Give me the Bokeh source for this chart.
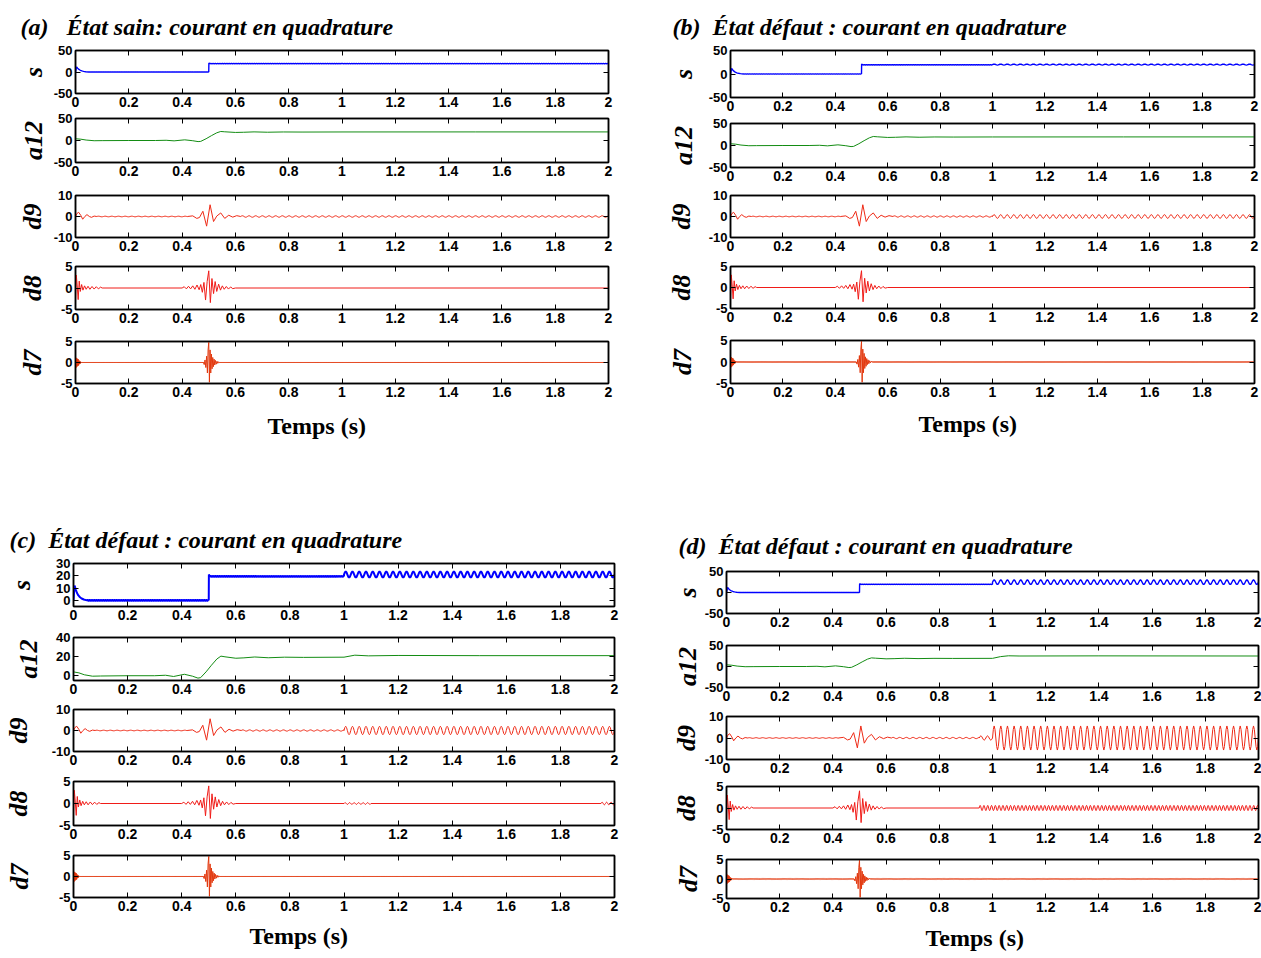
import numpy as np
from bokeh.plotting import figure
from bokeh.layouts import column, row
from bokeh.models import Range1d, FixedTicker, LinearAxis, Title, CustomJSTickFormatter
from bokeh.embed import file_html
from bokeh.resources import INLINE

# ---------------------------------------------------------------- data
X_TICKS = [0, 0.2, 0.4, 0.6, 0.8, 1, 1.2, 1.4, 1.6, 1.8, 2]
SIGNAL_NAMES = ["s", "a12", "d9", "d8", "d7"]
PANEL_KEYS = ["a", "b", "c", "d"]
NB = "\u00a0"
PANEL_TITLES = {
    "a": "(a)" + NB * 3 + "État sain: courant en quadrature",
    "b": "(b)" + NB * 2 + "État défaut : courant en quadrature",
    "c": "(c)" + NB * 2 + "État défaut : courant en quadrature",
    "d": "(d)" + NB * 2 + "État défaut : courant en quadrature",
}
X_LABEL = "Temps (s)"

Y_LIMITS = {"s": (-50, 50), "a12": (-50, 50), "d9": (-10, 10), "d8": (-5, 5), "d7": (-5, 5)}
Y_TICKS = {"s": [-50, 0, 50], "a12": [-50, 0, 50], "d9": [-10, 0, 10], "d8": [-5, 0, 5], "d7": [-5, 0, 5]}
Y_LIMITS_C = {"s": (-5, 30), "a12": (-5, 40)}
Y_TICKS_C = {"s": [0, 10, 20, 30], "a12": [0, 20, 40]}

# transient vertices (time s, value)
S_START_T = [0, 0.004, 0.008, 0.013, 0.018, 0.024, 0.030, 0.038, 0.050]
S_START_V = [0, 12, 9, 6, 4, 2.5, 1.5, 0.7, 0]
S_STEP_T = [0.5, 0.5005, 0.504]
S_STEP_V = [0, 21, 19.5]

A12_T = [0, 0.02, 0.04, 0.07, 0.10, 0.20, 0.30, 0.34, 0.37, 0.41, 0.44, 0.46, 0.47,
         0.49, 0.51, 0.53, 0.545, 0.56, 0.60, 0.63, 0.67, 0.72, 0.78, 0.85, 1.0]
A12_V = [4, 3, 1, -0.5, -0.3, 0, 0, 0.5, -0.8, 1.5, -0.5, -2.5, -2,
         4, 11, 17.5, 20.5, 19.8, 18.3, 18.7, 19.6, 18.8, 19.4, 19.2, 19.4]
A12_TAIL_AB_T = [1.5, 2.0]
A12_TAIL_AB_V = [19.5, 19.5]
A12_TAIL_C_T = [1.04, 1.09, 1.2, 1.5, 2.0]
A12_TAIL_C_V = [21.5, 20.8, 21.2, 21.0, 21.0]
A12_TAIL_D_T = [1.03, 1.06, 1.1, 1.4, 2.0]
A12_TAIL_D_V = [23.5, 25.5, 25.0, 25.3, 25.0]

D9_START_T = [0, 0.006, 0.012, 0.020, 0.027, 0.035, 0.043, 0.052, 0.060, 0.070, 0.080]
D9_START_V = [0, 1.5, 2.0, 0.5, -1.3, 0, 0.9, 0, -0.4, 0.2, 0]
D9_BURST_T = [0.42, 0.44, 0.455, 0.465, 0.478, 0.492, 0.505, 0.518, 0.530,
              0.545, 0.560, 0.575, 0.590, 0.605, 0.620]
D9_BURST_V = [0, 0.3, -0.9, -0.5, 2.5, -4.6, 5.6, -2.4, 0.2,
              1.7, -0.9, 0.6, -0.3, 0.4, 0]

D8_START_T = [0, 0.003, 0.007, 0.010, 0.014, 0.018, 0.023, 0.028, 0.034, 0.040,
              0.047, 0.054, 0.062, 0.070, 0.078, 0.086, 0.094, 0.100, 0.400]
D8_START_V = [-2.5, 3, 0, -2.7, 1.6, -0.8, 0.8, -0.5, 0.5, -0.3,
              0.4, -0.3, 0.35, -0.25, 0.3, -0.2, 0.2, 0, 0]
D8_BURST_T = [0.408, 0.416, 0.424, 0.432, 0.440, 0.448, 0.456, 0.464, 0.470, 0.476,
              0.482, 0.488, 0.494, 0.500, 0.506, 0.512, 0.518, 0.524, 0.530, 0.537,
              0.544, 0.551, 0.558, 0.566, 0.574, 0.582, 0.590, 0.600]
D8_BURST_V = [0.3, -0.2, 0.4, -0.2, 0.5, -0.3, 0.7, -0.4, 0.8, -1.0,
              1.3, -2.8, 1.5, 4.0, -3.4, 2.2, -1.3, 1.5, -0.8, 0.9,
              -0.5, 0.5, -0.3, 0.35, -0.25, 0.25, -0.15, 0]

D7_START_T = [0, 0.001, 0.0025, 0.004, 0.0055, 0.007, 0.0085, 0.010, 0.0115, 0.013,
              0.0145, 0.016, 0.0175, 0.019, 0.021]
D7_START_V = [0, 1, -1.2, 1.1, -1, 0.9, -0.8, 0.8, -0.7, 0.5,
              -0.4, 0.3, -0.3, 0.2, 0]
D7_BURST_T = [0.480, 0.483, 0.486, 0.489, 0.492, 0.495, 0.4975, 0.500, 0.5025, 0.505,
              0.5075, 0.510, 0.5125, 0.515, 0.5175, 0.520, 0.5225, 0.525, 0.528, 0.531,
              0.534, 0.537, 0.540]
D7_BURST_V = [0, -0.5, 0.6, -1.2, 1.5, -2.5, 3.0, 4.8, -4.7, 3.0,
              -2.5, 2.0, -1.5, 1.2, -1.0, 0.8, -0.6, 0.5, -0.4, 0.3,
              -0.2, 0.15, 0]

# steady oscillations: (start s, end s, cycles per s, amplitude, centre)
S_NOISE_1 = (0.05, 0.5, 150, 0.35, 0)
S_NOISE_2 = (0.504, 1.0, 150, 0.35, 19.5)
S_TAIL = {"a": (1.0, 2.0, 150, 0.35, 19.5), "b": (1.0, 2.0, 40, 1.0, 20.0),
          "c": (1.0, 2.0, 40, 2.5, 21.0), "d": (1.0, 2.0, 40, 5.5, 24.5)}
D9_QUIET = (0.08, 0.42, 40, 0.15, 0)
D9_TAIL = {"a": [(0.62, 2.0, 40, 0.35, 0)],
           "b": [(0.62, 1.0, 40, 0.3, 0), (1.0, 2.0, 40, 0.9, 0)],
           "c": [(0.62, 1.0, 40, 0.3, 0), (1.0, 2.0, 40, 2.0, 0)],
           "d": [(0.62, 0.95, 40, 0.3, 0), (0.95, 1.0, 40, 1.0, 0), (1.0, 2.0, 40, 5.6, 0)]}
D8_TAIL = {"a": [(0.6, 2.0, 0, 0, 0)],
           "b": [(0.6, 2.0, 0, 0, 0)],
           "c": [(0.6, 1.0, 0, 0, 0), (1.0, 1.1, 60, 0.2, 0), (1.1, 1.95, 0, 0, 0), (1.95, 2.0, 60, 0.3, 0)],
           "d": [(0.6, 0.95, 0, 0, 0), (0.95, 2.0, 70, 0.6, 0)]}
D7_NOISE_1 = (0.021, 0.48, 250, 0.12, 0)
D7_NOISE_2 = (0.54, 2.0, 250, 0.12, 0)

LINE_COLORS = {"s": "#0000ff", "a12": "#138c13", "d9": "#ee2a16", "d8": "#f01c18", "d7": "#e2380e"}

# ---------------------------------------------------------------- layout (page pixels)
FRAME_X = {"a": (75, 608), "b": (730, 1254), "c": (72, 614), "d": (726, 1258)}
FRAME_Y = {
    "a": [(50, 93), (118, 162), (195, 237), (266, 309), (341, 383)],
    "b": [(50, 97), (123, 167), (195, 237), (266, 308), (340, 383)],
    "c": [(563, 606), (637, 680), (709, 751), (781, 825), (855, 897)],
    "d": [(571, 613), (645, 687), (716, 759), (786, 829), (859, 902)],
}
BANDS = {"a": [0, 110, 183, 256, 330, 450], "b": [0, 113, 186, 256, 330, 450],
         "c": [450, 626, 698, 770, 844, 958], "d": [450, 634, 705, 776, 848, 958]}
COLS = {"a": (0, 640), "c": (0, 640), "b": (640, 1261), "d": (640, 1261)}
TITLE_X = {"a": 20, "b": 672, "c": 8, "d": 678}
TITLE_STANDOFF = {"a": 21, "b": 21, "c": 21, "d": 25}
XLAB_CX = {"a": 317, "b": 968, "c": 298, "d": 975}
XLAB_STANDOFF = {"a": 23, "b": 18, "c": 15, "d": 16}
YLAB_X = {"a": [35, 35, 34, 34, 34], "b": [685, 685, 683, 683, 684],
          "c": [22, 29, 19, 19, 20], "d": [692, 692, 688, 688, 690]}

TICK_FMT = CustomJSTickFormatter(code="return (Math.round(tick*10)/10).toString();")


def ripple(seg):
    t0, t1, f, amp, c = seg
    if f == 0:
        return [t0, t1], [c, c]
    n = max(2, int(round((t1 - t0) * f * 8)) + 1)
    tt = np.linspace(t0, t1, n)
    vv = c + amp * np.sin(2 * np.pi * f * (tt - t0))
    return list(tt), list(vv)


def assemble(pieces):
    T, V = [], []
    for p in pieces:
        if isinstance(p, tuple) and len(p) == 5:
            tt, vv = ripple(p)
        else:
            tt, vv = p
        T += list(tt)
        V += list(vv)
    return np.array(T), np.array(V)


def signal(name, k):
    if name == "s":
        return assemble([(S_START_T, S_START_V), S_NOISE_1, (S_STEP_T, S_STEP_V), S_NOISE_2, S_TAIL[k]])
    if name == "a12":
        tail = {"a": (A12_TAIL_AB_T, A12_TAIL_AB_V), "b": (A12_TAIL_AB_T, A12_TAIL_AB_V),
                "c": (A12_TAIL_C_T, A12_TAIL_C_V), "d": (A12_TAIL_D_T, A12_TAIL_D_V)}[k]
        return assemble([(A12_T, A12_V), tail])
    if name == "d9":
        return assemble([(D9_START_T, D9_START_V), D9_QUIET, (D9_BURST_T, D9_BURST_V)] + D9_TAIL[k])
    if name == "d8":
        return assemble([(D8_START_T, D8_START_V), (D8_BURST_T, D8_BURST_V)] + D8_TAIL[k])
    return assemble([(D7_START_T, D7_START_V), D7_NOISE_1, (D7_BURST_T, D7_BURST_V), D7_NOISE_2])


def label_width(ticks, size):
    best = 0
    for t in ticks:
        s = str(t)
        w = sum(0.333 if ch == "-" else 0.556 for ch in s) * size
        best = max(best, w)
    return best


def style_axis(ax, ticks, labels, standoff=3):
    ax.ticker = FixedTicker(ticks=ticks)
    ax.formatter = TICK_FMT
    ax.major_tick_in = 5
    ax.major_tick_out = 0
    ax.minor_tick_line_color = None
    ax.axis_line_color = "black"
    ax.axis_line_width = 1.5
    ax.major_tick_line_color = "black"
    ax.major_tick_line_width = 1
    if labels:
        ax.major_label_text_font = "Liberation Sans"
        ax.major_label_text_font_style = "bold"
        ax.major_label_text_color = "black"
        ax.major_label_standoff = standoff
    else:
        ax.major_label_text_font_size = "0px"
        ax.major_label_text_color = None
        ax.major_label_standoff = 0


def make_fig(k, i):
    name = SIGNAL_NAMES[i]
    L, R = FRAME_X[k]
    T, B = FRAME_Y[k][i]
    cx0, cx1 = COLS[k]
    y0, y1 = BANDS[k][i], BANDS[k][i + 1]
    lo, hi = (Y_LIMITS_C if (k == "c" and name in Y_LIMITS_C) else Y_LIMITS)[name]
    yt = (Y_TICKS_C if (k == "c" and name in Y_TICKS_C) else Y_TICKS)[name]
    p = figure(width=cx1 - cx0, height=y1 - y0, x_range=Range1d(0, 2), y_range=Range1d(lo, hi),
               output_backend="svg", toolbar_location=None,
               min_border_left=L - cx0, min_border_right=cx1 - R,
               min_border_top=T - y0, min_border_bottom=y1 - B)
    p.background_fill_color = "white"
    p.border_fill_color = "white"
    p.outline_line_color = "black"
    p.outline_line_width = 1.5
    p.xgrid.grid_line_color = None
    p.ygrid.grid_line_color = None

    style_axis(p.xaxis[0], X_TICKS, True, 3)
    p.xaxis[0].major_label_text_font_size = "14px"
    style_axis(p.yaxis[0], yt, True, 3)
    p.yaxis[0].major_label_text_font_size = "13px"
    top = LinearAxis()
    style_axis(top, X_TICKS, False)
    p.add_layout(top, "above")
    right = LinearAxis()
    style_axis(right, yt, False)
    p.add_layout(right, "right")

    yl = p.yaxis[0]
    yl.axis_label = name
    yl.axis_label_text_font = "Liberation Serif"
    yl.axis_label_text_font_style = "bold italic"
    yl.axis_label_text_font_size = "26px"
    yl.axis_label_text_color = "black"
    dist = L - YLAB_X[k][i]
    yl.axis_label_standoff = int(max(0, dist - 3 - label_width(yt, 13) - 15))

    t, v = signal(name, k)
    lw = 1.0
    if name == "s":
        lw = 2.0 if k == "c" else 1.4
    p.line(t, v, line_color=LINE_COLORS[name], line_width=lw)

    if i == 0:
        p.title.text = PANEL_TITLES[k]
        p.title.text_font = "Liberation Serif"
        p.title.text_font_style = "bold italic"
        p.title.text_font_size = "24px"
        p.title.text_color = "black"
        p.title.align = "left"
        p.title.offset = TITLE_X[k] - L
        p.title.standoff = TITLE_STANDOFF[k]
    if i == 4:
        xt = Title(text=X_LABEL, align="left", offset=XLAB_CX[k] - 50 - L,
                   text_font="Liberation Serif", text_font_style="bold",
                   text_font_size="24px", text_color="black", standoff=XLAB_STANDOFF[k])
        p.add_layout(xt, "below")
    return p


cols = {k: column(*[make_fig(k, i) for i in range(5)]) for k in PANEL_KEYS}

layout = column(row(cols["a"], cols["b"]), row(cols["c"], cols["d"]))
open("out.html", "w").write(file_html(layout, INLINE))
